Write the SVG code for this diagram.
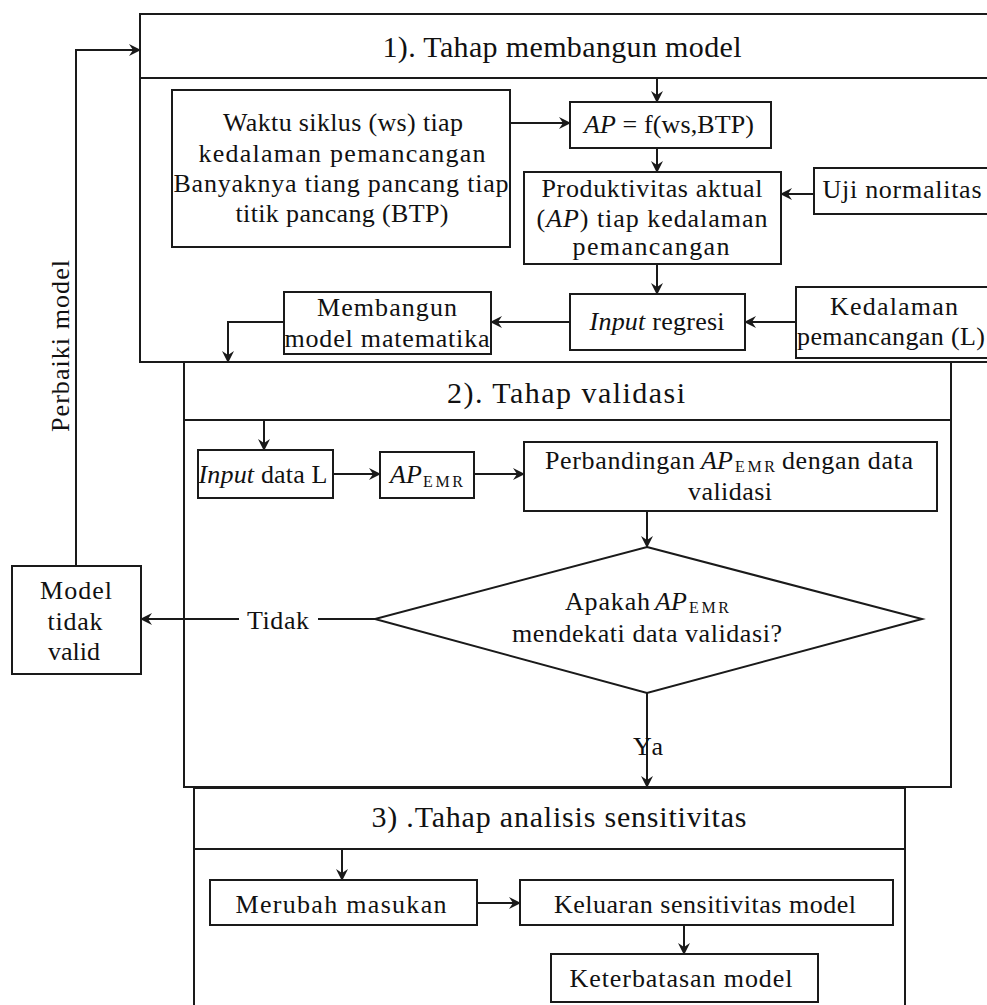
<svg xmlns="http://www.w3.org/2000/svg" width="987" height="1005" viewBox="0 0 987 1005">
  <style>
    .frame { fill: none; stroke: #1a1a1a; stroke-width: 2; }
    .box { fill: #ffffff; stroke: #1a1a1a; stroke-width: 2; }
    .wire { fill: none; stroke: #1a1a1a; stroke-width: 2; }
    .arrow { marker-end: url(#head); }
    text { font-family: "Liberation Serif", "Times New Roman", serif; fill: #111; }
    .t { font-size: 26px; text-anchor: middle; }
    .s { font-size: 26px; }
    .title { font-size: 30px; text-anchor: middle; }
    .it { font-style: italic; }
    .sub { font-size: 16px; }
  </style>
  <defs>
    <marker id="head" viewBox="0 0 12 12" refX="11" refY="6" markerWidth="12" markerHeight="12" markerUnits="userSpaceOnUse" orient="auto">
      <path d="M0,0 L12,6 L0,12 L4,6 z" fill="#1a1a1a"/>
    </marker>
  </defs>
  <rect width="987" height="1005" fill="#ffffff"/>

  <!-- stage frames -->
  <g id="stage-1">
    <rect class="frame" x="140" y="14" width="870" height="348"/>
    <line class="wire" x1="140" y1="78" x2="1010" y2="78"/>
    <text class="title" x="562" y="57" textLength="359" lengthAdjust="spacing">1).  Tahap membangun model</text>
  </g>
  <g id="stage-2">
    <rect class="frame" x="184" y="362" width="767" height="425"/>
    <line class="wire" x1="184" y1="420" x2="951" y2="420"/>
    <text class="title" x="566" y="403" textLength="238" lengthAdjust="spacing">2).  Tahap validasi</text>
  </g>
  <g id="stage-3">
    <rect class="frame" x="194" y="788" width="711" height="240"/>
    <line class="wire" x1="194" y1="849" x2="905" y2="849"/>
    <text class="title" x="559" y="827" textLength="375" lengthAdjust="spacing">3) .Tahap analisis sensitivitas</text>
  </g>

  <!-- connectors -->
  <g id="connectors">
    <path class="wire arrow" d="M76,566 V50 H140"/>
    <path class="wire arrow" d="M657,78 V102"/>
    <path class="wire arrow" d="M510,123 H570"/>
    <path class="wire arrow" d="M657,148 V172"/>
    <path class="wire arrow" d="M814,194 H781"/>
    <path class="wire arrow" d="M657,264 V294"/>
    <path class="wire arrow" d="M796,322 H745"/>
    <path class="wire arrow" d="M570,322 H491"/>
    <path class="wire arrow" d="M284,322 H228 V362"/>
    <path class="wire arrow" d="M264,420 V450"/>
    <path class="wire arrow" d="M333,474 H380"/>
    <path class="wire arrow" d="M474,474 H524"/>
    <path class="wire arrow" d="M647,511 V547"/>
    <path class="wire" d="M375,619 H318"/>
    <path class="wire arrow" d="M239,619 H141"/>
    <path class="wire arrow" d="M647,693 V787"/>
    <path class="wire arrow" d="M342,849 V880"/>
    <path class="wire arrow" d="M477,903 H520"/>
    <path class="wire arrow" d="M684,925 V954"/>
    <text class="t" x="278" y="629" textLength="62" lengthAdjust="spacing">Tidak</text>
    <text class="t" x="648" y="755" textLength="30" lengthAdjust="spacing">Ya</text>
    <text class="t" font-size="24" transform="translate(69,346) rotate(-90)" textLength="172" lengthAdjust="spacing">Perbaiki model</text>
  </g>

  <!-- stage 1 nodes -->
  <g id="input-data">
    <rect class="box" x="172" y="90" width="338" height="157"/>
    <text class="t" x="343" y="131" textLength="240" lengthAdjust="spacing">Waktu siklus (ws)  tiap</text>
    <text class="t" x="342" y="162" textLength="287" lengthAdjust="spacing">kedalaman pemancangan</text>
    <text class="t" x="341" y="192" textLength="335" lengthAdjust="spacing">Banyaknya tiang pancang tiap</text>
    <text class="t" x="342" y="222" textLength="213" lengthAdjust="spacing">titik pancang (BTP)</text>
  </g>
  <g id="ap-function">
    <rect class="box" x="570" y="102" width="201" height="46"/>
    <text class="t" x="669" y="133" textLength="170" lengthAdjust="spacing"><tspan class="it">AP</tspan> = f(ws,BTP)</text>
  </g>
  <g id="actual-productivity">
    <rect class="box" x="524" y="172" width="257" height="92"/>
    <text class="t" x="652" y="197" textLength="221" lengthAdjust="spacing">Produktivitas aktual</text>
    <text class="t" x="652" y="227" textLength="231" lengthAdjust="spacing">(<tspan class="it">AP</tspan>)  tiap kedalaman</text>
    <text class="t" x="651" y="255" textLength="157" lengthAdjust="spacing">pemancangan</text>
  </g>
  <g id="normality-test">
    <rect class="box" x="814" y="168" width="190" height="46"/>
    <text class="t" x="902" y="198" textLength="159" lengthAdjust="spacing">Uji normalitas</text>
  </g>
  <g id="regression-input">
    <rect class="box" x="570" y="294" width="175" height="56"/>
    <text class="t" x="657" y="330" textLength="135" lengthAdjust="spacing"><tspan class="it">Input</tspan> regresi</text>
  </g>
  <g id="depth">
    <rect class="box" x="796" y="287" width="210" height="71"/>
    <text class="t" x="894" y="315" textLength="128" lengthAdjust="spacing">Kedalaman</text>
    <text class="t" x="891" y="345" textLength="188" lengthAdjust="spacing">pemancangan (L)</text>
  </g>
  <g id="build-model">
    <rect class="box" x="284" y="292" width="207" height="62"/>
    <text class="t" x="387" y="316" textLength="140" lengthAdjust="spacing">Membangun</text>
    <text class="t" x="387" y="347" textLength="205" lengthAdjust="spacing">model matematika</text>
  </g>

  <!-- stage 2 nodes -->
  <g id="input-l">
    <rect class="box" x="198" y="450" width="135" height="48"/>
    <text class="t" x="263" y="483" textLength="129" lengthAdjust="spacing"><tspan class="it">Input</tspan> data L</text>
  </g>
  <g id="ap-emr">
    <rect class="box" x="380" y="452" width="94" height="46"/>
    <text class="s it" x="390" y="483">AP</text>
    <text class="sub" x="423" y="487" textLength="40" lengthAdjust="spacing">EMR</text>
  </g>
  <g id="comparison">
    <rect class="box" x="524" y="442" width="413" height="69"/>
    <text class="s" x="545" y="469" textLength="150" lengthAdjust="spacing">Perbandingan</text>
    <text class="s it" x="701" y="469">AP</text>
    <text class="sub" x="735" y="472" textLength="40" lengthAdjust="spacing">EMR</text>
    <text class="s" x="782" y="469" textLength="131" lengthAdjust="spacing">dengan data</text>
    <text class="t" x="730" y="500" textLength="84" lengthAdjust="spacing">validasi</text>
  </g>
  <g id="decision">
    <polygon class="box" points="647,547 922,619 647,693 375,619"/>
    <text class="s" x="565" y="610" textLength="85" lengthAdjust="spacing">Apakah</text>
    <text class="s it" x="655" y="610">AP</text>
    <text class="sub" x="689" y="613" textLength="40" lengthAdjust="spacing">EMR</text>
    <text class="t" x="647" y="642" textLength="270" lengthAdjust="spacing">mendekati data validasi?</text>
  </g>
  <g id="invalid-model">
    <rect class="box" x="12" y="566" width="129" height="108"/>
    <text class="t" x="76" y="599" textLength="72" lengthAdjust="spacing">Model</text>
    <text class="t" x="75" y="630" textLength="55" lengthAdjust="spacing">tidak</text>
    <text class="t" x="74" y="660" textLength="52" lengthAdjust="spacing">valid</text>
  </g>

  <!-- stage 3 nodes -->
  <g id="change-input">
    <rect class="box" x="210" y="880" width="267" height="45"/>
    <text class="t" x="341" y="913" textLength="211" lengthAdjust="spacing">Merubah masukan</text>
  </g>
  <g id="sensitivity-output">
    <rect class="box" x="520" y="880" width="373" height="45"/>
    <text class="t" x="705" y="913" textLength="302" lengthAdjust="spacing">Keluaran sensitivitas model</text>
  </g>
  <g id="model-limits">
    <rect class="box" x="551" y="954" width="267" height="48"/>
    <text class="t" x="681" y="987" textLength="223" lengthAdjust="spacing">Keterbatasan model</text>
  </g>
</svg>
